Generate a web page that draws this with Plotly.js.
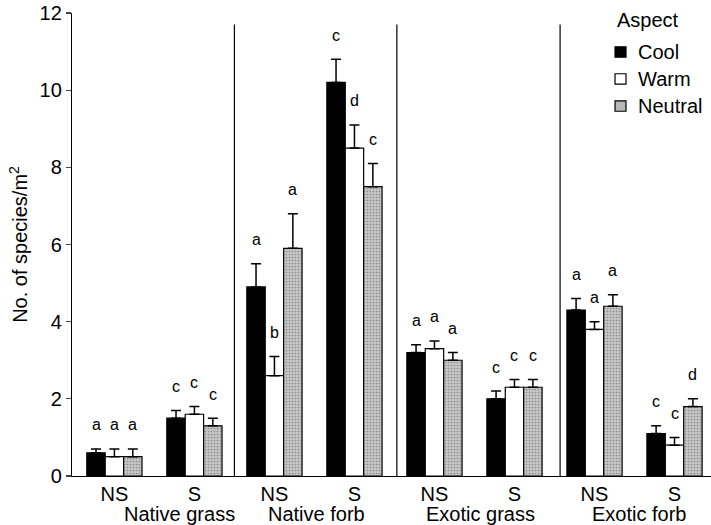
<!DOCTYPE html>
<html>
<head>
<meta charset="utf-8">
<script src="https://cdn.plot.ly/plotly-3.0.1.min.js"></script>
<style>html,body{margin:0;padding:0;background:#fff;}#chart{width:711px;height:525px;}</style>
</head>
<body>
<div id="chart"></div>
<script>
// ---- data ----
var groupLabels = ["Native grass", "Native forb", "Exotic grass", "Exotic forb"];
var subLabels = ["NS", "S", "NS", "S", "NS", "S", "NS", "S"];
var aspects = ["Cool", "Warm", "Neutral"];
var legendTitle = "Aspect";
var coolVals    = [0.6, 1.5, 4.9, 10.2, 3.2, 2.0, 4.3, 1.1];
var warmVals    = [0.5, 1.6, 2.6, 8.5, 3.3, 2.3, 3.8, 0.8];
var neutralVals = [0.5, 1.3, 5.9, 7.5, 3.0, 2.3, 4.4, 1.8];
var coolErr     = [0.1, 0.2, 0.6, 0.6, 0.2, 0.2, 0.3, 0.2];
var warmErr     = [0.2, 0.2, 0.5, 0.6, 0.2, 0.2, 0.2, 0.2];
var neutralErr  = [0.2, 0.2, 0.9, 0.6, 0.2, 0.2, 0.3, 0.2];
var coolLetters    = ["a", "c", "a", "c", "a", "c", "a", "c"];
var warmLetters    = ["a", "c", "b", "d", "a", "c", "a", "c"];
var neutralLetters = ["a", "c", "a", "c", "a", "c", "a", "d"];

// ---- build ----
var xs = subLabels.map(function (_, i) { return i; });
var FONT = "Liberation Sans, Arial, Helvetica, sans-serif";
var vals = [coolVals, warmVals, neutralVals];
var errs = [coolErr, warmErr, neutralErr];
var letters = [coolLetters, warmLetters, neutralLetters];
var fills = ["#000000", "#ffffff", "#bdbdbd"];

function grayMarker(m) {
  m.pattern = { shape: ".", fgcolor: "#8a8a8a", bgcolor: "#c6c6c6", size: 3, solidity: 0.25 };
  return m;
}

var traces = aspects.map(function (name, k) {
  var m = { color: fills[k], line: { color: "#000", width: 1.2 } };
  if (k === 2) grayMarker(m);
  return {
    type: "bar", name: name, x: xs, y: vals[k], showlegend: false,
    marker: m,
    error_y: { type: "data", symmetric: false, array: errs[k], arrayminus: errs[k].map(function () { return 0; }),
               color: "#000", thickness: 1.5, width: 5 },
    hoverinfo: "skip"
  };
});

var barW = 0.23;
var annotations = [];
for (var k = 0; k < 3; k++) {
  for (var i = 0; i < xs.length; i++) {
    annotations.push({
      x: xs[i] + (k - 1) * barW, y: vals[k][i] + errs[k][i], xref: "x", yref: "y",
      text: letters[k][i], showarrow: false, yanchor: "middle", yshift: 24,
      font: { family: FONT, size: 16, color: "#000" }
    });
  }
}
var groupX = [0.81, 2.53, 4.58, 6.56];
groupLabels.forEach(function (g, j) {
  annotations.push({
    x: groupX[j], y: 0, xref: "x", yref: "paper", yanchor: "middle", yshift: -38,
    text: g, showarrow: false, font: { family: FONT, size: 20, color: "#000" }
  });
});

// custom legend (paper coordinates)
var L = { x: 0.8498, tx: 0.8826, sq: 0.0172, h: 0.0113 };
var legY = [0.9158, 0.8575, 0.7991];
annotations.push({ x: L.x, y: 0.984, xref: "paper", yref: "paper", xanchor: "left", yanchor: "middle",
  text: legendTitle, showarrow: false, font: { family: FONT, size: 20, color: "#000" } });
var shapes = [];
aspects.forEach(function (name, k) {
  annotations.push({ x: L.tx, y: legY[k], xref: "paper", yref: "paper", xanchor: "left", yanchor: "middle",
    text: name, showarrow: false, font: { family: FONT, size: 20, color: "#000" } });
  shapes.push({ type: "rect", xref: "paper", yref: "paper", x0: L.x, x1: L.x + L.sq,
    y0: legY[k] - L.h, y1: legY[k] + L.h, fillcolor: k === 2 ? "#b8b8b8" : fills[k],
    line: { color: "#000", width: 1.2 } });
});

[1.5, 3.53, 5.57].forEach(function (d) {
  shapes.push({ type: "line", xref: "x", yref: "y", x0: d, x1: d, y0: 0, y1: 11.7,
           line: { color: "#000", width: 1.2 } });
});

var layout = {
  width: 711, height: 525,
  margin: { l: 72, r: 0, t: 13, b: 49 },
  paper_bgcolor: "#fff", plot_bgcolor: "#fff",
  barmode: "group", bargap: 0.31, bargroupgap: 0,
  font: { family: FONT, size: 20, color: "#000" },
  showlegend: false,
  xaxis: {
    range: [-0.53, 7.456], tickvals: xs, ticktext: subLabels, ticks: "",
    showgrid: false, zeroline: false, showline: true, linecolor: "#000", linewidth: 1.2,
    tickfont: { size: 20 }, fixedrange: true
  },
  yaxis: {
    range: [0, 12], tickvals: [0, 2, 4, 6, 8, 10, 12], ticks: "outside", ticklen: 5, tickwidth: 1.2,
    showgrid: false, zeroline: false, showline: true, linecolor: "#000", linewidth: 1.2,
    tickfont: { size: 20 },
    title: { text: "No. of species/m<sup>2</sup>", font: { size: 20 }, standoff: 6 }
  },
  shapes: shapes,
  annotations: annotations
};

Plotly.newPlot("chart", traces, layout, { displayModeBar: false, staticPlot: true });
</script>
</body>
</html>
